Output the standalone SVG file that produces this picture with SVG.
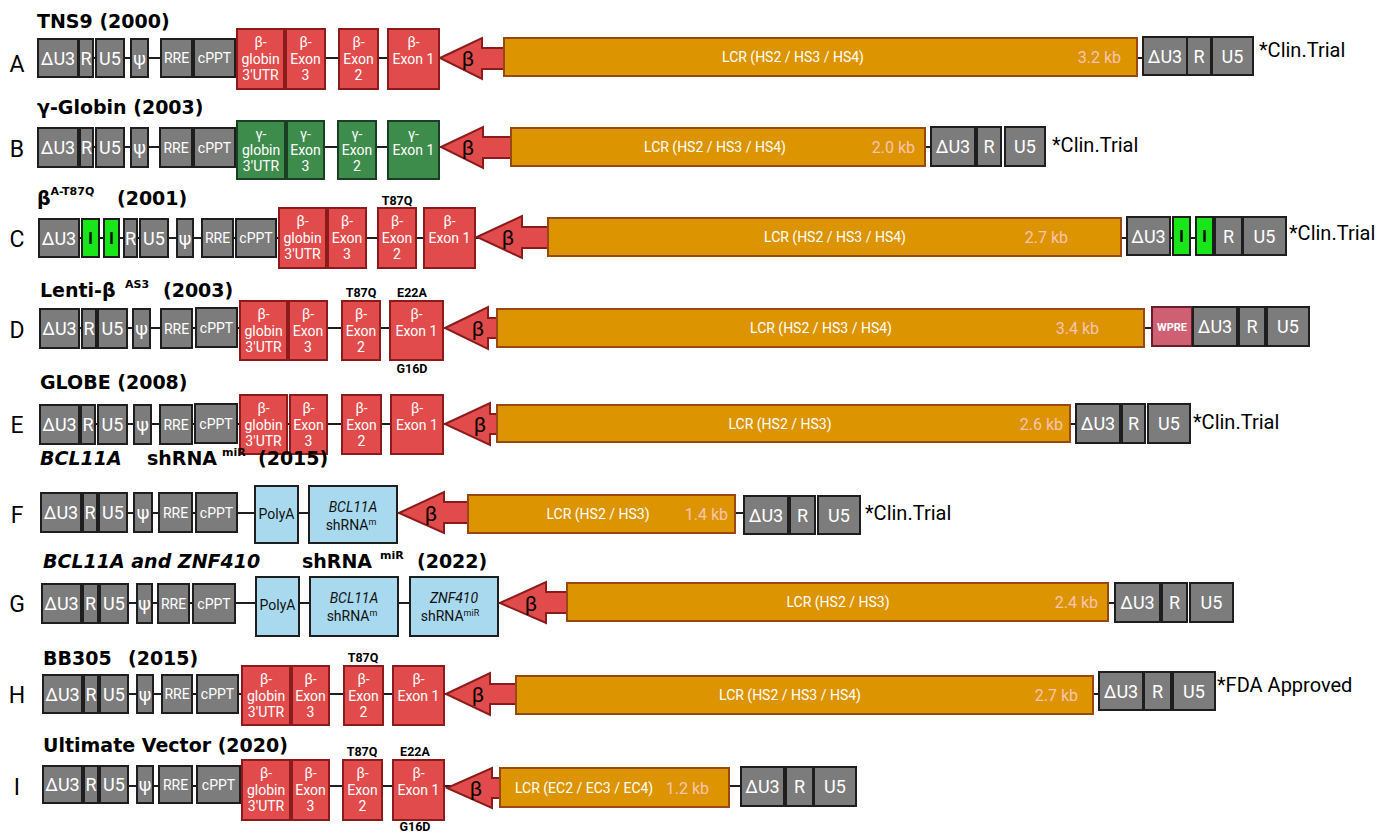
<svg xmlns="http://www.w3.org/2000/svg" width="1392" height="832" viewBox="0 0 1392 832">
<style>
.gy{fill:#7c7c7c;stroke:#1e1e1e;stroke-width:2}
.rd{fill:#e14b4b;stroke:#8c1c1c;stroke-width:2}
.gn{fill:#3e8c4c;stroke:#1b3f22;stroke-width:2}
.lg{fill:#19e619;stroke:#1e1e1e;stroke-width:2}
.lcr{fill:#dc9400;stroke:#9a4812;stroke-width:2}
.bl{fill:#a8d9ef;stroke:#1e1e1e;stroke-width:2}
.wp{fill:#cf5f73;stroke:#6a1f2a;stroke-width:2}
.arr{fill:#e14b4b;stroke:#8c1c1c;stroke-width:2;stroke-linejoin:miter}
.ln{stroke:#1e1e1e;stroke-width:2;fill:none}
text{font-family:Roboto,"Liberation Sans",sans-serif}
.b1{fill:#fff;font-size:18px;text-anchor:middle}
.b2{fill:#fff;font-size:14px;text-anchor:middle}
.bk{fill:#111;font-size:14px;text-anchor:middle}
.ii{fill:#111;font-size:17px;font-weight:bold;text-anchor:middle}
.lt{fill:#fff;font-size:14px;text-anchor:middle}
.kb{fill:#fbc4ae;font-size:16px;text-anchor:end}
.ct{fill:#000;font-size:20px}
.lbl{fill:#000;font-size:23px;text-anchor:middle}
.ti{fill:#000;font-family:"DejaVu Sans",sans-serif;font-weight:bold;font-size:19px}
.tii{fill:#000;font-family:"DejaVu Sans",sans-serif;font-weight:bold;font-style:italic;font-size:19px}
.sup{fill:#000;font-family:"DejaVu Sans",sans-serif;font-weight:bold;font-size:11px}
.mu{fill:#000;font-weight:bold;font-size:12.5px;text-anchor:middle}
.be{fill:#000;font-size:21px;text-anchor:middle}
.wt{fill:#fff;font-weight:bold;font-size:11px;text-anchor:middle}
</style>

<g id="connectors">
<line class="ln" x1="78" y1="58" x2="1143" y2="58"/>
<line class="ln" x1="78" y1="147" x2="931" y2="147"/>
<line class="ln" x1="79" y1="238" x2="1243" y2="238"/>
<line class="ln" x1="79" y1="328" x2="1152" y2="328"/>
<line class="ln" x1="79" y1="424" x2="1076" y2="424"/>
<line class="ln" x1="81" y1="513" x2="744" y2="513"/>
<line class="ln" x1="81" y1="603" x2="1115" y2="603"/>
<line class="ln" x1="82" y1="694" x2="1099" y2="694"/>
<line class="ln" x1="82" y1="786" x2="741" y2="786"/>
</g>

<!-- Row A -->
<g id="rowA">
<text class="lbl" x="17" y="72">A</text>
<text class="ti" x="37" y="28">TNS9 (2000)</text>
<g id="A-dU3"><rect class="gy" x="38" y="39" width="40" height="38"/><text class="b1" x="58" y="64.5">ΔU3</text></g>
<g id="A-R"><rect class="gy" x="79" y="39" width="14" height="38"/><text class="b1" x="86" y="64.5">R</text></g>
<g id="A-U5"><rect class="gy" x="96" y="39" width="28" height="38"/><text class="b1" x="110" y="64.5">U5</text></g>
<g id="A-psi"><rect class="gy" x="131" y="39" width="17" height="38"/><text class="b1" x="139.5" y="64.5">ψ</text></g>
<g id="A-RRE"><rect class="gy" x="161" y="39" width="31" height="38"/><text class="b2" x="176.5" y="63">RRE</text></g>
<g id="A-cPPT"><rect class="gy" x="194" y="39" width="41" height="38"/><text class="b2" x="214.5" y="63">cPPT</text></g>
<g id="A-UTR"><rect class="rd" x="237" y="29" width="47" height="60"/><text class="b2" x="260.5" y="47">β-</text><text class="b2" x="260.5" y="63.5">globin</text><text class="b2" x="260.5" y="80">3'UTR</text></g>
<g id="A-ex3"><rect class="rd" x="286" y="29" width="39" height="60"/><text class="b2" x="305.5" y="47">β-</text><text class="b2" x="305.5" y="63.5">Exon</text><text class="b2" x="305.5" y="80">3</text></g>
<g id="A-ex2"><rect class="rd" x="339" y="29" width="39" height="60"/><text class="b2" x="358.5" y="47">β-</text><text class="b2" x="358.5" y="63.5">Exon</text><text class="b2" x="358.5" y="80">2</text></g>
<g id="A-ex1"><rect class="rd" x="388" y="29" width="51" height="60"/><text class="b2" x="413.5" y="47">β-</text><text class="b2" x="413.5" y="63.5">Exon 1</text></g>
<g id="A-prom"><path class="arr" d="M440,58 L482,38 L482,48 L505,48 L505,69 L482,69 L482,79 Z"/><text class="be" x="468" y="66">β</text></g>
<g id="A-LCR"><rect class="lcr" x="504" y="38" width="633" height="38"/><text class="lt" x="793" y="62">LCR (HS2 / HS3 / HS4)</text><text class="kb" x="1121" y="63">3.2 kb</text></g>
<g id="A-dU3b"><rect class="gy" x="1143" y="37" width="44" height="38"/><text class="b1" x="1165" y="62.5">ΔU3</text></g>
<g id="A-Rb"><rect class="gy" x="1187" y="37" width="24" height="38"/><text class="b1" x="1199" y="62.5">R</text></g>
<g id="A-U5b"><rect class="gy" x="1212" y="37" width="41" height="38"/><text class="b1" x="1232.5" y="62.5">U5</text></g>
<text class="ct" x="1259" y="57">*Clin.Trial</text>
</g>

<!-- Row B -->
<g id="rowB">
<text class="lbl" x="17" y="157">B</text>
<text class="ti" x="37" y="114">γ-Globin (2003)</text>
<g id="B-dU3"><rect class="gy" x="38" y="128" width="40" height="39"/><text class="b1" x="58" y="154">ΔU3</text></g>
<g id="B-R"><rect class="gy" x="80" y="128" width="13" height="39"/><text class="b1" x="86.5" y="154">R</text></g>
<g id="B-U5"><rect class="gy" x="96" y="128" width="28" height="39"/><text class="b1" x="110" y="154">U5</text></g>
<g id="B-psi"><rect class="gy" x="131" y="128" width="17" height="39"/><text class="b1" x="139.5" y="154">ψ</text></g>
<g id="B-RRE"><rect class="gy" x="160" y="128" width="32" height="39"/><text class="b2" x="176" y="152.5">RRE</text></g>
<g id="B-cPPT"><rect class="gy" x="194" y="128" width="41" height="39"/><text class="b2" x="214.5" y="152.5">cPPT</text></g>
<g id="B-UTR"><rect class="gn" x="237" y="121" width="48" height="58"/><text class="b2" x="261" y="139">γ-</text><text class="b2" x="261" y="155">globin</text><text class="b2" x="261" y="171">3'UTR</text></g>
<g id="B-ex3"><rect class="gn" x="287" y="121" width="37" height="58"/><text class="b2" x="305.5" y="139">γ-</text><text class="b2" x="305.5" y="155">Exon</text><text class="b2" x="305.5" y="171">3</text></g>
<g id="B-ex2"><rect class="gn" x="338" y="121" width="38" height="58"/><text class="b2" x="357" y="139">γ-</text><text class="b2" x="357" y="155">Exon</text><text class="b2" x="357" y="171">2</text></g>
<g id="B-ex1"><rect class="gn" x="388" y="121" width="51" height="58"/><text class="b2" x="413.5" y="139">γ-</text><text class="b2" x="413.5" y="155">Exon 1</text></g>
<g id="B-prom"><path class="arr" d="M441,147 L483,127 L483,137 L512,137 L512,158 L483,158 L483,168 Z"/><text class="be" x="468" y="155">β</text></g>
<g id="B-LCR"><rect class="lcr" x="511" y="128" width="414" height="38"/><text class="lt" x="715" y="152">LCR (HS2 / HS3 / HS4)</text><text class="kb" x="915" y="153">2.0 kb</text></g>
<g id="B-dU3b"><rect class="gy" x="931" y="127" width="44" height="39"/><text class="b1" x="953" y="153">ΔU3</text></g>
<g id="B-Rb"><rect class="gy" x="977" y="127" width="24" height="39"/><text class="b1" x="989" y="153">R</text></g>
<g id="B-U5b"><rect class="gy" x="1005" y="127" width="40" height="39"/><text class="b1" x="1025" y="153">U5</text></g>
<text class="ct" x="1052" y="152">*Clin.Trial</text>
</g>

<!-- Row C -->
<g id="rowC">
<text class="lbl" x="17" y="247">C</text>
<text class="ti" x="37" y="205" font-size="21">β<tspan class="sup" dy="-10" font-size="11">A-T87Q</tspan></text>
<text class="ti" x="117" y="205">(2001)</text>
<g id="C-dU3"><rect class="gy" x="39" y="219" width="40" height="38"/><text class="b1" x="59" y="244.5">ΔU3</text></g>
<g id="C-I1"><rect class="lg" x="82" y="219" width="17" height="38"/><text class="ii" x="90.5" y="244">I</text></g>
<g id="C-I2"><rect class="lg" x="104" y="219" width="15" height="38"/><text class="ii" x="111.5" y="244">I</text></g>
<g id="C-R"><rect class="gy" x="124" y="219" width="13" height="38"/><text class="b1" x="130.5" y="244.5">R</text></g>
<g id="C-U5"><rect class="gy" x="140" y="219" width="28" height="38"/><text class="b1" x="154" y="244.5">U5</text></g>
<g id="C-psi"><rect class="gy" x="177" y="219" width="16" height="38"/><text class="b1" x="185" y="244.5">ψ</text></g>
<g id="C-RRE"><rect class="gy" x="202" y="219" width="31" height="38"/><text class="b2" x="217.5" y="243">RRE</text></g>
<g id="C-cPPT"><rect class="gy" x="236" y="219" width="40" height="38"/><text class="b2" x="256" y="243">cPPT</text></g>
<g id="C-UTR"><rect class="rd" x="279" y="208" width="47" height="60"/><text class="b2" x="302.5" y="226">β-</text><text class="b2" x="302.5" y="242.5">globin</text><text class="b2" x="302.5" y="259">3'UTR</text></g>
<g id="C-ex3"><rect class="rd" x="328" y="208" width="38" height="60"/><text class="b2" x="347" y="226">β-</text><text class="b2" x="347" y="242.5">Exon</text><text class="b2" x="347" y="259">3</text></g>
<g id="C-ex2"><rect class="rd" x="378" y="208" width="38" height="60"/><text class="b2" x="397" y="226">β-</text><text class="b2" x="397" y="242.5">Exon</text><text class="b2" x="397" y="259">2</text><text class="mu" x="397" y="205">T87Q</text></g>
<g id="C-ex1"><rect class="rd" x="424" y="208" width="51" height="60"/><text class="b2" x="449.5" y="226">β-</text><text class="b2" x="449.5" y="242.5">Exon 1</text></g>
<g id="C-prom"><path class="arr" d="M477,237 L522,216 L522,227 L549,227 L549,248 L522,248 L522,258 Z"/><text class="be" x="508" y="245">β</text></g>
<g id="C-LCR"><rect class="lcr" x="548" y="218" width="573" height="38"/><text class="lt" x="835" y="242">LCR (HS2 / HS3 / HS4)</text><text class="kb" x="1068" y="243">2.7 kb</text></g>
<g id="C-dU3b"><rect class="gy" x="1127" y="217" width="43" height="38"/><text class="b1" x="1148.5" y="242.5">ΔU3</text></g>
<g id="C-I1b"><rect class="lg" x="1173" y="217" width="17" height="38"/><text class="ii" x="1181.5" y="242">I</text></g>
<g id="C-I2b"><rect class="lg" x="1196" y="217" width="17" height="38"/><text class="ii" x="1204.5" y="242">I</text></g>
<g id="C-Rb"><rect class="gy" x="1215" y="217" width="27" height="38"/><text class="b1" x="1228.5" y="242.5">R</text></g>
<g id="C-U5b"><rect class="gy" x="1243" y="217" width="43" height="38"/><text class="b1" x="1264.5" y="242.5">U5</text></g>
<text class="ct" x="1289" y="240">*Clin.Trial</text>
</g>

<!-- Row D -->
<g id="rowD">
<text class="lbl" x="17" y="338">D</text>
<text class="ti" x="40" y="297">Lenti-β</text>
<text class="sup" x="125" y="288">AS3</text>
<text class="ti" x="163" y="297">(2003)</text>
<g id="D-dU3"><rect class="gy" x="40" y="309" width="39" height="39"/><text class="b1" x="59.5" y="335">ΔU3</text></g>
<g id="D-R"><rect class="gy" x="82" y="309" width="14" height="39"/><text class="b1" x="89" y="335">R</text></g>
<g id="D-U5"><rect class="gy" x="98" y="309" width="29" height="39"/><text class="b1" x="112.5" y="335">U5</text></g>
<g id="D-psi"><rect class="gy" x="133" y="309" width="17" height="39"/><text class="b1" x="141.5" y="335">ψ</text></g>
<g id="D-RRE"><rect class="gy" x="161" y="309" width="31" height="39"/><text class="b2" x="176.5" y="333.5">RRE</text></g>
<g id="D-cPPT"><rect class="gy" x="196" y="308" width="41" height="39"/><text class="b2" x="216.5" y="332.5">cPPT</text></g>
<g id="D-UTR"><rect class="rd" x="240" y="301" width="47" height="59"/><text class="b2" x="263.5" y="319">β-</text><text class="b2" x="263.5" y="335.5">globin</text><text class="b2" x="263.5" y="352">3'UTR</text></g>
<g id="D-ex3"><rect class="rd" x="289" y="301" width="38" height="59"/><text class="b2" x="308" y="319">β-</text><text class="b2" x="308" y="335.5">Exon</text><text class="b2" x="308" y="352">3</text></g>
<g id="D-ex2"><rect class="rd" x="342" y="301" width="38" height="59"/><text class="b2" x="361" y="319">β-</text><text class="b2" x="361" y="335.5">Exon</text><text class="b2" x="361" y="352">2</text><text class="mu" x="361" y="297">T87Q</text></g>
<g id="D-ex1"><rect class="rd" x="390" y="301" width="53" height="59"/><text class="b2" x="416.5" y="319">β-</text><text class="b2" x="416.5" y="335.5">Exon 1</text><text class="mu" x="412" y="297">E22A</text><text class="mu" x="412" y="373">G16D</text></g>
<g id="D-prom"><path class="arr" d="M445,328 L488,307 L488,318 L498,318 L498,338 L488,338 L488,349 Z"/><text class="be" x="478" y="336">β</text></g>
<g id="D-LCR"><rect class="lcr" x="497" y="309" width="647" height="38"/><text class="lt" x="821" y="333">LCR (HS2 / HS3 / HS4)</text><text class="kb" x="1099" y="334">3.4 kb</text></g>
<g id="D-WPRE"><rect class="wp" x="1152" y="307" width="40" height="39"/><text class="wt" x="1172" y="331">WPRE</text></g>
<g id="D-dU3b"><rect class="gy" x="1193" y="307" width="44" height="39"/><text class="b1" x="1215" y="333">ΔU3</text></g>
<g id="D-Rb"><rect class="gy" x="1239" y="307" width="26" height="39"/><text class="b1" x="1252" y="333">R</text></g>
<g id="D-U5b"><rect class="gy" x="1267" y="307" width="42" height="39"/><text class="b1" x="1288" y="333">U5</text></g>
</g>

<!-- Row E -->
<g id="rowE">
<text class="lbl" x="17" y="433">E</text>
<text class="ti" x="40" y="389">GLOBE (2008)</text>
<g id="E-dU3"><rect class="gy" x="40" y="405" width="39" height="39"/><text class="b1" x="59.5" y="431">ΔU3</text></g>
<g id="E-R"><rect class="gy" x="81" y="405" width="14" height="39"/><text class="b1" x="88" y="431">R</text></g>
<g id="E-U5"><rect class="gy" x="98" y="405" width="29" height="39"/><text class="b1" x="112.5" y="431">U5</text></g>
<g id="E-psi"><rect class="gy" x="134" y="405" width="17" height="39"/><text class="b1" x="142.5" y="431">ψ</text></g>
<g id="E-RRE"><rect class="gy" x="160" y="405" width="32" height="39"/><text class="b2" x="176" y="429.5">RRE</text></g>
<g id="E-cPPT"><rect class="gy" x="195" y="404" width="42" height="39"/><text class="b2" x="216" y="428.5">cPPT</text></g>
<g id="E-UTR"><rect class="rd" x="240" y="395" width="47" height="59"/><text class="b2" x="263.5" y="413">β-</text><text class="b2" x="263.5" y="429.5">globin</text><text class="b2" x="263.5" y="446">3'UTR</text></g>
<g id="E-ex3"><rect class="rd" x="290" y="395" width="37" height="59"/><text class="b2" x="308.5" y="413">β-</text><text class="b2" x="308.5" y="429.5">Exon</text><text class="b2" x="308.5" y="446">3</text></g>
<g id="E-ex2"><rect class="rd" x="342" y="395" width="39" height="59"/><text class="b2" x="361.5" y="413">β-</text><text class="b2" x="361.5" y="429.5">Exon</text><text class="b2" x="361.5" y="446">2</text></g>
<g id="E-ex1"><rect class="rd" x="391" y="395" width="52" height="59"/><text class="b2" x="417" y="413">β-</text><text class="b2" x="417" y="429.5">Exon 1</text></g>
<g id="E-prom"><path class="arr" d="M445,424 L490,403 L490,414 L498,414 L498,434 L490,434 L490,445 Z"/><text class="be" x="480" y="432">β</text></g>
<g id="E-LCR"><rect class="lcr" x="497" y="405" width="573" height="37"/><text class="lt" x="780" y="428.5">LCR (HS2 / HS3)</text><text class="kb" x="1063" y="429.5">2.6 kb</text></g>
<g id="E-dU3b"><rect class="gy" x="1076" y="404" width="44" height="39"/><text class="b1" x="1098" y="430">ΔU3</text></g>
<g id="E-Rb"><rect class="gy" x="1122" y="404" width="23" height="39"/><text class="b1" x="1133.5" y="430">R</text></g>
<g id="E-U5b"><rect class="gy" x="1148" y="404" width="42" height="39"/><text class="b1" x="1169" y="430">U5</text></g>
<text class="ct" x="1193" y="429">*Clin.Trial</text>
</g>

<!-- Row F -->
<g id="rowF">
<text class="lbl" x="17" y="523">F</text>
<text class="tii" x="40" y="465">BCL11A</text>
<text class="ti" x="147" y="465">shRNA</text>
<text class="sup" x="222" y="456">miR</text>
<text class="ti" x="258" y="465">(2015)</text>
<g id="F-dU3"><rect class="gy" x="41" y="493" width="40" height="39"/><text class="b1" x="61" y="519">ΔU3</text></g>
<g id="F-R"><rect class="gy" x="83" y="493" width="14" height="39"/><text class="b1" x="90" y="519">R</text></g>
<g id="F-U5"><rect class="gy" x="99" y="493" width="28" height="39"/><text class="b1" x="113" y="519">U5</text></g>
<g id="F-psi"><rect class="gy" x="134" y="493" width="18" height="39"/><text class="b1" x="143" y="519">ψ</text></g>
<g id="F-RRE"><rect class="gy" x="159" y="493" width="33" height="39"/><text class="b2" x="175.5" y="517.5">RRE</text></g>
<g id="F-cPPT"><rect class="gy" x="196" y="493" width="41" height="39"/><text class="b2" x="216.5" y="517.5">cPPT</text></g>
<g id="F-polyA"><rect class="bl" x="255" y="486" width="43" height="57"/><text class="bk" x="276.5" y="519">PolyA</text></g>
<g id="F-sh"><rect class="bl" x="309" y="486" width="88" height="57"/><text class="bk" x="353" y="512" font-style="italic">BCL11A</text><text class="bk" x="351" y="530">shRNA<tspan font-size="9" dy="-5">m</tspan></text></g>
<g id="F-prom"><path class="arr" d="M399,513 L444,492 L444,502 L469,502 L469,523 L444,523 L444,533 Z"/><text class="be" x="431" y="521">β</text></g>
<g id="F-LCR"><rect class="lcr" x="468" y="495" width="267" height="38"/><text class="lt" x="598" y="519">LCR (HS2 / HS3)</text><text class="kb" x="728" y="520">1.4 kb</text></g>
<g id="F-dU3b"><rect class="gy" x="744" y="496" width="44" height="38"/><text class="b1" x="766" y="521.5">ΔU3</text></g>
<g id="F-Rb"><rect class="gy" x="790" y="496" width="25" height="38"/><text class="b1" x="802.5" y="521.5">R</text></g>
<g id="F-U5b"><rect class="gy" x="818" y="496" width="42" height="38"/><text class="b1" x="839" y="521.5">U5</text></g>
<text class="ct" x="865" y="520">*Clin.Trial</text>
</g>

<!-- Row G -->
<g id="rowG">
<text class="lbl" x="17" y="612">G</text>
<text class="tii" x="43" y="568">BCL11A and ZNF410</text>
<text class="ti" x="302" y="568">shRNA</text>
<text class="sup" x="380" y="559">miR</text>
<text class="ti" x="417" y="568">(2022)</text>
<g id="G-dU3"><rect class="gy" x="42" y="584" width="39" height="39"/><text class="b1" x="61.5" y="610">ΔU3</text></g>
<g id="G-R"><rect class="gy" x="83" y="584" width="15" height="39"/><text class="b1" x="90.5" y="610">R</text></g>
<g id="G-U5"><rect class="gy" x="100" y="584" width="28" height="39"/><text class="b1" x="114" y="610">U5</text></g>
<g id="G-psi"><rect class="gy" x="137" y="584" width="15" height="39"/><text class="b1" x="144.5" y="610">ψ</text></g>
<g id="G-RRE"><rect class="gy" x="158" y="584" width="31" height="39"/><text class="b2" x="173.5" y="608.5">RRE</text></g>
<g id="G-cPPT"><rect class="gy" x="193" y="584" width="42" height="39"/><text class="b2" x="214" y="608.5">cPPT</text></g>
<g id="G-polyA"><rect class="bl" x="256" y="577" width="43" height="59"/><text class="bk" x="277.5" y="610">PolyA</text></g>
<g id="G-sh1"><rect class="bl" x="310" y="577" width="88" height="59"/><text class="bk" x="354" y="603" font-style="italic">BCL11A</text><text class="bk" x="352" y="621">shRNA<tspan font-size="9" dy="-5">m</tspan></text></g>
<g id="G-sh2"><rect class="bl" x="410" y="577" width="88" height="59"/><text class="bk" x="454" y="603" font-style="italic">ZNF410</text><text class="bk" x="450" y="621">shRNA<tspan font-size="9" dy="-5">miR</tspan></text></g>
<g id="G-prom"><path class="arr" d="M500,603 L546,582 L546,592 L568,592 L568,613 L546,613 L546,623 Z"/><text class="be" x="531" y="611">β</text></g>
<g id="G-LCR"><rect class="lcr" x="567" y="583" width="541" height="38"/><text class="lt" x="838" y="607">LCR (HS2 / HS3)</text><text class="kb" x="1098" y="608">2.4 kb</text></g>
<g id="G-dU3b"><rect class="gy" x="1115" y="583" width="45" height="39"/><text class="b1" x="1137.5" y="609">ΔU3</text></g>
<g id="G-Rb"><rect class="gy" x="1162" y="583" width="25" height="39"/><text class="b1" x="1174.5" y="609">R</text></g>
<g id="G-U5b"><rect class="gy" x="1190" y="583" width="43" height="39"/><text class="b1" x="1211.5" y="609">U5</text></g>
</g>

<!-- Row H -->
<g id="rowH">
<text class="lbl" x="17" y="703">H</text>
<text class="ti" x="43" y="665">BB305</text>
<text class="ti" x="128" y="665">(2015)</text>
<g id="H-dU3"><rect class="gy" x="43" y="675" width="39" height="38"/><text class="b1" x="62.5" y="700.5">ΔU3</text></g>
<g id="H-R"><rect class="gy" x="84" y="675" width="14" height="38"/><text class="b1" x="91" y="700.5">R</text></g>
<g id="H-U5"><rect class="gy" x="100" y="675" width="28" height="38"/><text class="b1" x="114" y="700.5">U5</text></g>
<g id="H-psi"><rect class="gy" x="137" y="675" width="16" height="38"/><text class="b1" x="145" y="700.5">ψ</text></g>
<g id="H-RRE"><rect class="gy" x="162" y="675" width="30" height="38"/><text class="b2" x="177" y="699">RRE</text></g>
<g id="H-cPPT"><rect class="gy" x="197" y="675" width="41" height="38"/><text class="b2" x="217.5" y="699">cPPT</text></g>
<g id="H-UTR"><rect class="rd" x="242" y="666" width="48" height="59"/><text class="b2" x="266" y="684">β-</text><text class="b2" x="266" y="700.5">globin</text><text class="b2" x="266" y="717">3'UTR</text></g>
<g id="H-ex3"><rect class="rd" x="292" y="666" width="37" height="59"/><text class="b2" x="310.5" y="684">β-</text><text class="b2" x="310.5" y="700.5">Exon</text><text class="b2" x="310.5" y="717">3</text></g>
<g id="H-ex2"><rect class="rd" x="344" y="666" width="39" height="59"/><text class="b2" x="363.5" y="684">β-</text><text class="b2" x="363.5" y="700.5">Exon</text><text class="b2" x="363.5" y="717">2</text><text class="mu" x="363" y="662">T87Q</text></g>
<g id="H-ex1"><rect class="rd" x="393" y="666" width="51" height="59"/><text class="b2" x="418.5" y="684">β-</text><text class="b2" x="418.5" y="700.5">Exon 1</text></g>
<g id="H-prom"><path class="arr" d="M446,694 L490,673 L490,684 L517,684 L517,704 L490,704 L490,715 Z"/><text class="be" x="478" y="702">β</text></g>
<g id="H-LCR"><rect class="lcr" x="516" y="676" width="577" height="38"/><text class="lt" x="790" y="700">LCR (HS2 / HS3 / HS4)</text><text class="kb" x="1078" y="701">2.7 kb</text></g>
<g id="H-dU3b"><rect class="gy" x="1099" y="672" width="44" height="38"/><text class="b1" x="1121" y="697.5">ΔU3</text></g>
<g id="H-Rb"><rect class="gy" x="1144" y="672" width="27" height="38"/><text class="b1" x="1157.5" y="697.5">R</text></g>
<g id="H-U5b"><rect class="gy" x="1173" y="672" width="42" height="38"/><text class="b1" x="1194" y="697.5">U5</text></g>
<text class="ct" x="1217" y="692">*FDA Approved</text>
</g>

<!-- Row I -->
<g id="rowI">
<text class="lbl" x="17" y="795">I</text>
<text class="ti" x="43" y="752">Ultimate Vector (2020)</text>
<g id="I-dU3"><rect class="gy" x="43" y="766" width="39" height="37"/><text class="b1" x="62.5" y="791">ΔU3</text></g>
<g id="I-R"><rect class="gy" x="84" y="766" width="14" height="37"/><text class="b1" x="91" y="791">R</text></g>
<g id="I-U5"><rect class="gy" x="100" y="766" width="28" height="37"/><text class="b1" x="114" y="791">U5</text></g>
<g id="I-psi"><rect class="gy" x="137" y="766" width="16" height="37"/><text class="b1" x="145" y="791">ψ</text></g>
<g id="I-RRE"><rect class="gy" x="159" y="766" width="33" height="37"/><text class="b2" x="175.5" y="789.5">RRE</text></g>
<g id="I-cPPT"><rect class="gy" x="197" y="766" width="43" height="37"/><text class="b2" x="218.5" y="789.5">cPPT</text></g>
<g id="I-UTR"><rect class="rd" x="242" y="760" width="48" height="60"/><text class="b2" x="266" y="778">β-</text><text class="b2" x="266" y="794.5">globin</text><text class="b2" x="266" y="811">3'UTR</text></g>
<g id="I-ex3"><rect class="rd" x="292" y="760" width="37" height="60"/><text class="b2" x="310.5" y="778">β-</text><text class="b2" x="310.5" y="794.5">Exon</text><text class="b2" x="310.5" y="811">3</text></g>
<g id="I-ex2"><rect class="rd" x="343" y="760" width="39" height="60"/><text class="b2" x="362.5" y="778">β-</text><text class="b2" x="362.5" y="794.5">Exon</text><text class="b2" x="362.5" y="811">2</text><text class="mu" x="362" y="756">T87Q</text></g>
<g id="I-ex1"><rect class="rd" x="393" y="760" width="51" height="60"/><text class="b2" x="418.5" y="778">β-</text><text class="b2" x="418.5" y="794.5">Exon 1</text><text class="mu" x="415" y="756">E22A</text><text class="mu" x="415" y="831">G16D</text></g>
<g id="I-prom"><path class="arr" d="M447,788 L492,768 L492,778 L501,778 L501,798 L492,798 L492,808 Z"/><text class="be" x="476" y="796">β</text></g>
<g id="I-LCR"><rect class="lcr" x="500" y="768" width="229" height="39"/><text class="lt" x="515" y="792.5" style="text-anchor:start">LCR (EC2 / EC3 / EC4)</text><text class="kb" x="709" y="793.5">1.2 kb</text></g>
<g id="I-dU3b"><rect class="gy" x="741" y="767" width="43" height="39"/><text class="b1" x="762.5" y="793">ΔU3</text></g>
<g id="I-Rb"><rect class="gy" x="786" y="767" width="27" height="39"/><text class="b1" x="799.5" y="793">R</text></g>
<g id="I-U5b"><rect class="gy" x="814" y="767" width="42" height="39"/><text class="b1" x="835" y="793">U5</text></g>
</g>
</svg>
